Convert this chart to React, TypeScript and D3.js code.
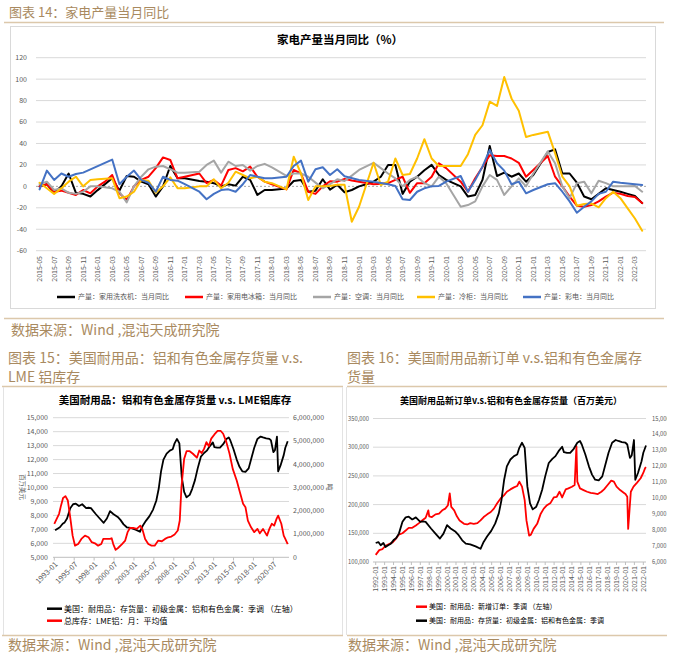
import React from 'react';
import * as d3 from 'd3';

const FONT = '"Noto Sans CJK SC","Noto Sans",sans-serif';
const TAN = '#a98a60';
const RULE = '#dcc8ab';
const AXIS_TXT = '#595959';
const GRID = '#d9d9d9';

// ---------------- Chart 14: 家电产量当月同比 ----------------
const START_YEAR14 = 2015;
const START_MONTH14 = 5;
const N14 = 84;
const monthLabels14: string[] = d3.range(N14).map((i) => {
  const m = START_MONTH14 - 1 + i;
  return `${START_YEAR14 + Math.floor(m / 12)}-${String((m % 12) + 1).padStart(2, '0')}`;
});
const yTicks14 = [-60, -40, -20, 0, 20, 40, 60, 80, 100, 120];

const washer14: (number | null)[] = [0,2,-6,0,12,-6,-7,-9.5,-3.5,null, 7.5,-4,9.7,9,4.4,2,-9.5,0,19,7.5, 7.5,null,5,4.4,3,0,2,0.7,9,6, -8,-3.4,-3.4,null,-2,5,6,-5,-4,6.6, -3,1.5,-5.5,-3.4,0,2,4.4,9,20,20, -7,4.4,9,15,20,10.6,6,null,0,-9.5, -8,6,37.6,9.7,12.8,9,12,4.4,10.6,null, 32,34.5,12,12,3.5,-9.5,-12,-7,-1.8,-3.4, -5,-7,-9,-15.6];
const fridge14: (number | null)[] = [0,2,-5,-4,-6,-8,-3.4,-6.5,0,4.4, 10.6,-6.5,-12.7,0,6,9,17,27,24.6,7.5, 9,null,12,3,6,0.7,15.3,17,14,18.4, 9,4.4,2,null,-2.8,15.3,12,-5,-7,0, 4.8,4.4,7,5.5,4.4,null,2,2.5,3,6, 9,-6,3,3,9,21.5,17,null,4.4,-5, 7.5,18,29,28.3,28.3,26,22,9,15.3,null, 28.3,9,0,-9.5,-18,-19,-17.4,-14,-9.5,-5.9, -7,-9,-10,-15.6];
const aircon14: (number | null)[] = [2,4.4,-3.4,-1.8,-6,-7,-5,0,0,null, -1.8,-5,-15,0,9,15.9,18.4,19,16,12.8, 12.8,null,13.7,20,24,12.8,23,19,20,14.7, 19,21,17.8,null,9.7,12,12,9,3.5,-1.8, 2,6.6,5,10,15.3,null,22,17,12,7.5, 0,6,9,3,0,9,3,null,-19,-17.4, -14,0,10.6,6,-8,0,7.5,0,12,null, 32.6,21.6,0,-11,3,4.4,-6.5,5.3,3,0, 0,0,0.4,-5];
const freezer14: (number | null)[] = [3.4,-1.8,-7,-1.8,4.4,9,0,6,6.6,null, 7.5,-11,-9.5,-5,6,5.3,-6,0,8.4,-1.8, -1.8,null,0,0,6.6,-1.8,3.4,13.7,10.6,7.5, 9,4.4,3,null,-2.8,27.7,12,-12.7,0,0, 0.4,1.5,1.5,-33,-19,null,22,1.3,4.4,26, 10.6,11.5,26,44,26,19,19,null,19,30, 48,57,79,75,102,82,70.6,46,48,null, 51,31,9,0,-18,-16.5,-15.9,-19.5,-11,-5, -11,-20.5,-30,-41.4];
const tv14: (number | null)[] = [-2.8,14.7,6,12,9,11.5,12.8,null,null,null, 25,2,9,14.7,6,3.4,-5,9,6,5.3, 2,null,-5,-12,-7,-3.4,-2.8,-5,2,10.6, 9,7.5,7.5,null,9,19,24,4.4,16,17.8, 10.6,16,9.5,null,6,null,4.4,null,2,0.4, -12,-12.7,-5,-1.8,0,0.4,4.4,null,9.7,-5, 6,18.4,34,21.5,14.7,2,4.4,-6.5,-3.4,null, 2,3,-5,-14,-24.6,-19,-14,-7,-5,4.4, 3.4,null,null,1.3];

const series14 = [
  { name: '产量：家用洗衣机：当月同比', color: '#000000', values: washer14, lx: 57 },
  { name: '产量：家用电冰箱：当月同比', color: '#ff0000', values: fridge14, lx: 185 },
  { name: '产量：空调：当月同比', color: '#a5a5a5', values: aircon14, lx: 313 },
  { name: '产量：冷柜：当月同比', color: '#ffc000', values: freezer14, lx: 417 },
  { name: '产量：彩电：当月同比', color: '#4472c4', values: tv14, lx: 523 },
];

// ---------------- Shared: US aluminium & non-ferrous inventories (百万美元) ----------------
const alInventory: [number, number][] = [
  [1992.0,7190],[1992.3,7250],[1992.56,7050],[1992.86,7190],[1993.1,6940],[1993.4,7050],[1993.7,7150],[1994.05,7400],[1994.3,7500],[1994.6,7780],[1995.0,8520],[1995.36,8800],[1995.7,8840],[1996.1,8670],[1996.5,8800],[1997.0,8520],[1997.3,8550],[1997.6,8520],[1998.2,8100],[1998.7,7780],[1999.2,7470],[1999.6,7780],[2000.0,8310],[2000.4,8100],[2000.96,7890],[2001.3,7680],[2001.7,7360],[2002.1,7150],[2002.6,7110],[2003.2,6980],[2003.75,6830],[2004.1,7260],[2004.5,7610],[2004.95,7950],[2005.4,8420],[2005.8,9050],[2006.1,9890],[2006.4,11160],[2006.7,12000],[2007.1,12430],[2007.5,12640],[2007.86,12740],[2008.1,13160],[2008.4,13480],[2008.7,13160],[2009.0,10740],[2009.3,9680],[2009.6,9300],[2010.0,9470],[2010.3,9890],[2010.66,10530],[2011.0,11370],[2011.4,12210],[2011.8,12470],[2012.15,12640],[2012.5,12950],[2012.9,13230],[2013.1,12890],[2013.45,12850],[2013.8,12850],[2014.2,13100],[2014.6,13480],[2014.9,13590],[2015.1,13370],[2015.5,12740],[2015.9,12000],[2016.25,11480],[2016.6,11160],[2017.0,11120],[2017.4,11370],[2017.75,12110],[2018.1,12850],[2018.5,13480],[2018.9,13650],[2019.2,13590],[2019.6,13520],[2020.0,13480],[2020.2,13370],[2020.5,12530],[2020.7,12680],[2020.95,13650],[2021.1,11160],[2021.4,11580],[2021.8,12320],[2022.0,12850],[2022.3,13310],
];

// ---------------- Chart 15: LME aluminium stocks (吨) ----------------
const lmeStocks: [number, number][] = [
  [1993.0,1435000],[1993.3,1650000],[1993.6,1870000],[1993.84,2220000],[1994.1,2550000],[1994.4,2630000],[1994.7,2440000],[1995.0,1720000],[1995.3,930000],[1995.6,500000],[1996.0,570000],[1996.4,790000],[1996.85,930000],[1997.3,860000],[1997.7,650000],[1998.1,600000],[1998.5,500000],[1998.9,570000],[1999.15,790000],[1999.6,790000],[2000.0,790000],[2000.2,820000],[2000.4,570000],[2000.7,320000],[2001.0,400000],[2001.5,570000],[2001.9,720000],[2002.2,1080000],[2002.5,1260000],[2002.9,1260000],[2003.35,1220000],[2003.8,1360000],[2004.05,1220000],[2004.4,790000],[2004.8,570000],[2005.2,500000],[2005.6,500000],[2006.05,720000],[2006.5,690000],[2006.9,790000],[2007.3,860000],[2007.7,890000],[2008.1,980000],[2008.5,1150000],[2008.75,1580000],[2008.96,3010000],[2009.3,4230000],[2009.6,4560000],[2010.0,4560000],[2010.4,4450000],[2010.9,4280000],[2011.2,4590000],[2011.5,4480000],[2011.8,4660000],[2012.1,4950000],[2012.4,4770000],[2012.7,5100000],[2013.1,5280000],[2013.5,5430000],[2013.9,5430000],[2014.2,5310000],[2014.6,4950000],[2015.0,4450000],[2015.4,3800000],[2015.9,3300000],[2016.3,2800000],[2016.7,2300000],[2017.0,2150000],[2017.3,1580000],[2017.7,1290000],[2018.1,1080000],[2018.5,1220000],[2018.8,1030000],[2019.2,1220000],[2019.7,930000],[2020.0,1220000],[2020.3,1440000],[2020.6,1360000],[2020.9,1650000],[2021.1,1790000],[2021.5,1440000],[2021.8,930000],[2022.0,790000],[2022.3,570000],
];
const leftTicks15 = d3.range(5000, 15001, 1000);
const rightTicks15 = d3.range(0, 6000001, 1000000);
const xTicks15 = d3.range(12).map((k) => 1993 + k * 2.5);

// ---------------- Chart 16: US durable goods new orders (百万美元) ----------------
const newOrders: [number, number][] = [
  [1992.0,112400],[1992.4,120700],[1992.75,122400],[1993.1,128300],[1993.5,131300],[1993.9,134200],[1994.25,140100],[1994.6,147800],[1995.0,150100],[1995.36,154800],[1995.7,159500],[1996.1,159500],[1996.5,163600],[1996.85,167700],[1997.2,172400],[1997.6,177100],[1997.9,190000],[1998.0,179500],[1998.3,178300],[1998.7,183000],[1999.1,184200],[1999.46,190000],[1999.8,193000],[2000.1,198900],[2000.3,219500],[2000.47,196000],[2000.8,190000],[2001.1,179500],[2001.4,172400],[2001.9,166500],[2002.26,165400],[2002.6,167700],[2003.0,166500],[2003.4,167700],[2003.75,172400],[2004.1,178300],[2004.5,183000],[2004.9,187100],[2005.25,193000],[2005.6,201800],[2006.0,210600],[2006.4,216500],[2006.7,222400],[2007.1,226500],[2007.5,230000],[2007.86,232400],[2008.1,240000],[2008.4,231200],[2008.7,207700],[2008.9,172400],[2009.2,146000],[2009.4,147700],[2009.7,157700],[2010.1,166500],[2010.5,184200],[2010.84,193000],[2011.2,198900],[2011.6,203000],[2011.96,212400],[2012.3,213600],[2012.6,222400],[2012.9,212400],[2013.3,226500],[2013.6,228300],[2014.0,231200],[2014.3,234200],[2014.5,301800],[2014.6,240000],[2014.9,228300],[2015.3,225300],[2015.7,222400],[2016.1,220600],[2016.5,219500],[2016.9,218300],[2017.3,222400],[2017.6,226500],[2018.0,234200],[2018.4,241800],[2018.7,240000],[2019.0,231200],[2019.4,225300],[2019.8,220600],[2020.0,218300],[2020.2,213600],[2020.3,157700],[2020.45,190000],[2020.6,222400],[2020.9,231200],[2021.3,238300],[2021.7,245900],[2021.98,254700],[2022.2,263600],[2022.3,265300],
];
const leftTicks16 = d3.range(100000, 350001, 50000);
const rightTicks16 = d3.range(6000, 15001, 1000);
const xTicks16 = d3.range(1992, 2023);

const fmtYM = (y: number) => `${Math.floor(y)}-${String(Math.round((y - Math.floor(y)) * 12) + 1).padStart(2, '0')}`;
const fmtNum = d3.format(',');

function Chart14() {
  const x = d3.scalePoint<number>().domain(d3.range(N14)).range([39.6, 642.2]);
  const y = d3.scaleLinear().domain([-60, 120]).range([250.7, 57.7]);
  const line = d3.line<[number, number]>().x((d) => x(d[0]) as number).y((d) => y(d[1]));
  return (
    <g>
      <rect x={10.5} y={26.5} width={645} height={282} fill="#fff" stroke="#d9d9d9" />
      <text x={340} y={44} textAnchor="middle" fontSize={11.5} fontWeight="bold" fill="#000">家电产量当月同比（%）</text>
      {yTicks14.map((t) => (
        <g key={t}>
          {t !== 0 && <line x1={36} x2={646} y1={y(t)} y2={y(t)} stroke={GRID} strokeWidth={1} />}
          <text x={27} y={y(t)} dy="0.35em" textAnchor="end" fontSize={7} fill={AXIS_TXT}>{t}</text>
        </g>
      ))}
      <line x1={36} x2={646} y1={y(0)} y2={y(0)} stroke="#a6a6a6" strokeWidth={1} strokeDasharray="2,2" />
      {monthLabels14.map((m, i) => i % 2 === 0 ? (
        <text key={m} transform={`translate(${x(i)},256) rotate(-90)`} dy="0.35em" textAnchor="end" fontSize={7} fill={AXIS_TXT}>{m}</text>
      ) : null)}
      {series14.map((s) => {
        const pts = s.values.map((v, i) => [i, v] as [number, number | null]).filter((d) => d[1] !== null) as [number, number][];
        return <path key={s.name} d={line(pts) || ''} fill="none" stroke={s.color} strokeWidth={2} strokeLinejoin="round" strokeLinecap="round" />;
      })}
      {series14.map((s) => (
        <g key={'lg' + s.name}>
          <line x1={s.lx} x2={s.lx + 18} y1={297} y2={297} stroke={s.color} strokeWidth={2.5} />
          <text x={s.lx + 21} y={297} dy="0.35em" fontSize={7} fill={AXIS_TXT}>{s.name}</text>
        </g>
      ))}
    </g>
  );
}

function Chart15() {
  const x = d3.scaleLinear().domain([1993, 2022.3]).range([54.3, 287.7]);
  const yL = d3.scaleLinear().domain([5000, 15000]).range([557.3, 417.7]);
  const yR = d3.scaleLinear().domain([0, 6000000]).range([557.3, 417.7]);
  const lineL = d3.line<[number, number]>().x((d) => x(d[0])).y((d) => yL(d[1]));
  const lineR = d3.line<[number, number]>().x((d) => x(d[0])).y((d) => yR(d[1]));
  const inv = alInventory.filter((d) => d[0] >= 1993);
  return (
    <g>
      <text x={175} y={404} textAnchor="middle" fontSize={10.5} fontWeight="bold" fill="#000">美国耐用品：铝和有色金属存货量 v.s. LME铝库存</text>
      {leftTicks15.map((t) => (
        <g key={t}>
          <line x1={53} x2={289} y1={yL(t)} y2={yL(t)} stroke={t === 5000 ? '#bfbfbf' : GRID} />
          <text x={48} y={yL(t)} dy="0.35em" textAnchor="end" fontSize={7} fill={AXIS_TXT}>{fmtNum(t)}</text>
        </g>
      ))}
      {rightTicks15.map((t) => (
        <text key={t} x={293} y={yR(t)} dy="0.35em" fontSize={7} fill={AXIS_TXT}>{fmtNum(t)}</text>
      ))}
      {xTicks15.map((t) => (
        <g key={t}>
          <line x1={x(t)} x2={x(t)} y1={557.3} y2={560.5} stroke="#bfbfbf" />
          <text transform={`translate(${x(t) + 2},563) rotate(-45)`} textAnchor="end" dy="0.35em" fontSize={7.5} fill={AXIS_TXT}>{fmtYM(t)}</text>
        </g>
      ))}
      <text transform="translate(20,487) rotate(90)" textAnchor="middle" fontSize={6.5} fill={AXIS_TXT}>百万美元</text>
      <text transform="translate(327,487) rotate(90)" textAnchor="middle" fontSize={7} fill={AXIS_TXT}>吨</text>
      <path d={lineL(inv) || ''} fill="none" stroke="#000" strokeWidth={1.8} strokeLinejoin="round" />
      <path d={lineR(lmeStocks) || ''} fill="none" stroke="#ff0000" strokeWidth={1.8} strokeLinejoin="round" />
      <line x1={47} x2={62} y1={608.7} y2={608.7} stroke="#000" strokeWidth={2.5} />
      <text x={64} y={608.7} dy="0.35em" fontSize={8} fill="#000">美国：耐用品：存货量：初级金属：铝和有色金属：季调 （左轴）</text>
      <line x1={47} x2={62} y1={620.7} y2={620.7} stroke="#ff0000" strokeWidth={2.5} />
      <text x={64} y={620.7} dy="0.35em" fontSize={8} fill="#000">总库存：LME铝：月：平均值</text>
    </g>
  );
}

function Chart16() {
  const x = d3.scaleLinear().domain([1992, 2022.3]).range([375.7, 646]);
  const yL = d3.scaleLinear().domain([100000, 350000]).range([562, 418.5]);
  const yR = d3.scaleLinear().domain([6000, 15000]).range([562, 418.5]);
  const lineL = d3.line<[number, number]>().x((d) => x(d[0])).y((d) => yL(d[1]));
  const lineR = d3.line<[number, number]>().x((d) => x(d[0])).y((d) => yR(d[1]));
  return (
    <g clipPath="url(#clip16)">
      <text x={511} y={404} textAnchor="middle" fontSize={9} fontWeight="bold" fill="#000">美国耐用品新订单v.s.铝和有色金属存货量（百万美元）</text>
      {leftTicks16.map((t) => (
        <g key={t}>
          <line x1={373} x2={646} y1={yL(t)} y2={yL(t)} stroke={t === 100000 ? '#bfbfbf' : GRID} />
          <text x={369} y={yL(t)} dy="0.35em" textAnchor="end" fontSize={5.8} fill={AXIS_TXT}>{fmtNum(t)}</text>
        </g>
      ))}
      {rightTicks16.map((t) => (
        <text key={t} x={652} y={yR(t)} dy="0.35em" fontSize={5.8} fill={AXIS_TXT}>{fmtNum(t)}</text>
      ))}
      {xTicks16.map((t) => (
        <g key={t}>
          <line x1={x(t)} x2={x(t)} y1={562} y2={565} stroke="#bfbfbf" />
          <text transform={`translate(${x(t)},566) rotate(-90)`} textAnchor="end" dy="0.35em" fontSize={7} fill={AXIS_TXT}>{fmtYM(t)}</text>
        </g>
      ))}
      <path d={lineL(newOrders) || ''} fill="none" stroke="#ff0000" strokeWidth={1.8} strokeLinejoin="round" />
      <path d={lineR(alInventory) || ''} fill="none" stroke="#000" strokeWidth={1.8} strokeLinejoin="round" />
      <line x1={416} x2={427} y1={606.7} y2={606.7} stroke="#ff0000" strokeWidth={2.5} />
      <text x={429} y={606.7} dy="0.35em" fontSize={7} fill="#000">美国：耐用品：新增订单：季调 （左轴）</text>
      <line x1={416} x2={427} y1={620.7} y2={620.7} stroke="#000" strokeWidth={2.5} />
      <text x={429} y={620.7} dy="0.35em" fontSize={7} fill="#000">美国：耐用品：存货量：初级金属：铝和有色金属：季调</text>
    </g>
  );
}

export default function App() {
  return (
    <svg width={684} height={659} style={{ position: 'absolute', left: 0, top: 0, background: '#fff' }} fontFamily={FONT}>
      <defs>
        <clipPath id="clip16"><rect x={345} y={386} width={322} height={250} /></clipPath>
      </defs>
      <rect x={0} y={0} width={684} height={659} fill="#fff" />
      <text x={9} y={17} fontSize={13} fill={TAN}>图表 14：家电产量当月同比</text>
      <line x1={4} x2={664} y1={22.5} y2={22.5} stroke={RULE} strokeWidth={1.5} />
      <Chart14 />
      <line x1={4} x2={664} y1={318.5} y2={318.5} stroke={RULE} strokeWidth={1.5} />
      <text x={11} y={335} fontSize={14} fill={TAN}>数据来源：Wind ,混沌天成研究院</text>
      <text x={8} y={363} fontSize={14} fill={TAN}>图表 15：美国耐用品：铝和有色金属存货量 v.s.</text>
      <text x={8} y={382} fontSize={14} fill={TAN}>LME 铝库存</text>
      <text x={347} y={363} fontSize={14} fill={TAN}>图表 16：美国耐用品新订单 v.s.铝和有色金属存</text>
      <text x={347} y={382} fontSize={14} fill={TAN}>货量</text>
      <line x1={2} x2={343} y1={386.5} y2={386.5} stroke={RULE} strokeWidth={1.5} />
      <line x1={347} x2={667} y1={386.5} y2={386.5} stroke={RULE} strokeWidth={1.5} />
      <line x1={3.5} x2={3.5} y1={387} y2={635} stroke="#e3e3e3" />
      <line x1={342.5} x2={342.5} y1={387} y2={635} stroke="#e3e3e3" />
      <line x1={346.5} x2={346.5} y1={387} y2={635} stroke="#e3e3e3" />
      <Chart15 />
      <Chart16 />
      <line x1={2} x2={343} y1={635.5} y2={635.5} stroke={RULE} strokeWidth={1.5} />
      <line x1={347} x2={667} y1={635.5} y2={635.5} stroke={RULE} strokeWidth={1.5} />
      <text x={8} y={650} fontSize={14} fill={TAN}>数据来源：Wind ,混沌天成研究院</text>
      <text x={348} y={650} fontSize={14} fill={TAN}>数据来源：Wind ,混沌天成研究院</text>
    </svg>
  );
}
